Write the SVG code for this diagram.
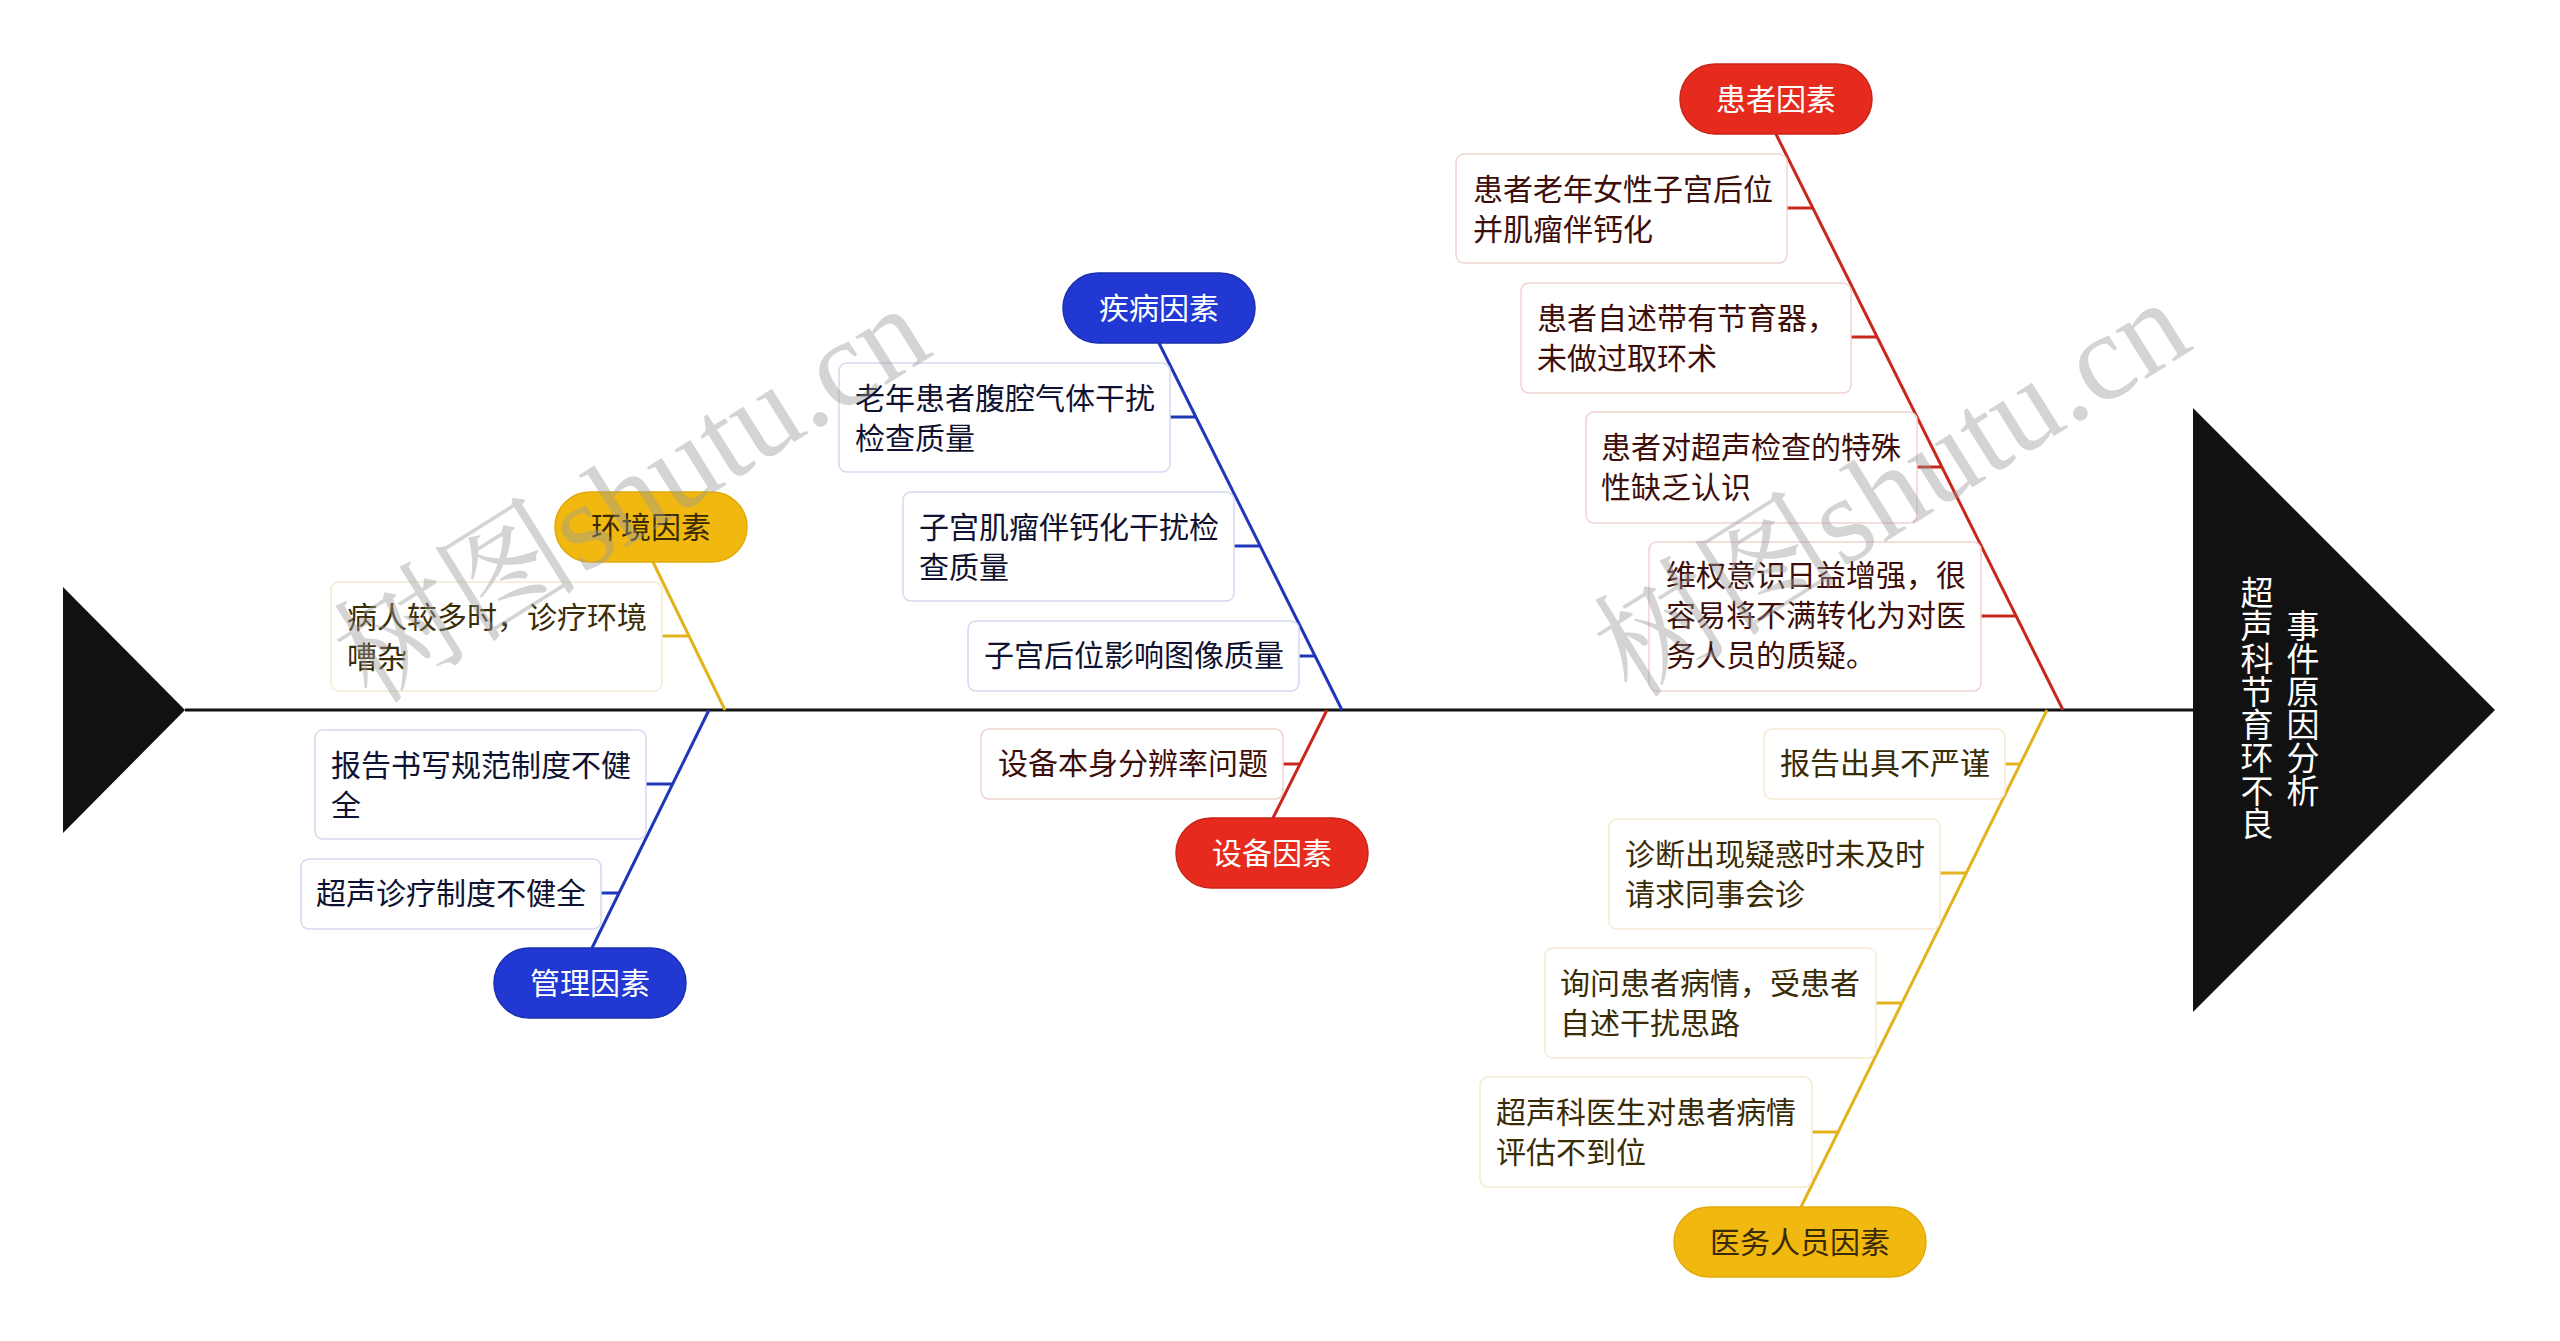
<svg xmlns="http://www.w3.org/2000/svg" width="2560" height="1341" viewBox="0 0 2560 1341">
<style>
text{font-family:"Noto Sans CJK SC","Noto Sans",sans-serif;}
.t{font-size:30px;}
.pill-t{font-size:30px;text-anchor:middle;}
.box{fill:#fff;stroke-width:1.5;}
.rb{stroke:#efd3d1;} .bb{stroke:#d4d9f0;} .yb{stroke:#f3ead0;}
.rt{fill:#3e0e0a;} .bt{fill:#0f1230;} .yt{fill:#3a2c06;}
.red-line{stroke:#c8271c;stroke-width:3;fill:none;}
.blue-line{stroke:#1f36b8;stroke-width:3;fill:none;}
.yel-line{stroke:#e3b31d;stroke-width:3;fill:none;}
.red-pill{fill:#e62b1e;stroke:#c92419;stroke-width:1.5;}
.blue-pill{fill:#2139d2;stroke:#1a2fb0;stroke-width:1.5;}
.yel-pill{fill:#f1b90f;stroke:#e0aa0a;stroke-width:1.5;}
.wt{fill:#fff;} .dk{fill:#3a2a05;}
.title{font-size:33px;fill:#fff;text-anchor:middle;writing-mode:vertical-rl;}
.wm{font-family:"Liberation Serif","Noto Serif CJK SC","Noto Sans CJK SC",serif;font-size:124px;fill:#9a9a9a;opacity:0.42;}
</style>
<rect width="2560" height="1341" fill="#fff"/>

<g id="connectors">
<line x1="185" y1="710" x2="2193" y2="710" stroke="#111" stroke-width="3"/>
<!-- 患者因素 -->
<line class="red-line" x1="1776" y1="134" x2="2063" y2="710"/>
<line class="red-line" x1="1787" y1="208" x2="1813" y2="208"/>
<line class="red-line" x1="1851" y1="337" x2="1877" y2="337"/>
<line class="red-line" x1="1917" y1="467" x2="1941" y2="467"/>
<line class="red-line" x1="1981" y1="616" x2="2016" y2="616"/>
<!-- 疾病因素 -->
<line class="blue-line" x1="1159" y1="343" x2="1342" y2="710"/>
<line class="blue-line" x1="1170" y1="417" x2="1196" y2="417"/>
<line class="blue-line" x1="1234" y1="546" x2="1260" y2="546"/>
<line class="blue-line" x1="1299" y1="656" x2="1315" y2="656"/>
<!-- 设备因素 -->
<line class="red-line" x1="1327" y1="710" x2="1273" y2="818"/>
<line class="red-line" x1="1283" y1="764" x2="1300" y2="764"/>
<!-- 环境因素 -->
<line class="yel-line" x1="653" y1="562" x2="725" y2="710"/>
<line class="yel-line" x1="662" y1="636" x2="689" y2="636"/>
<!-- 管理因素 -->
<line class="blue-line" x1="709" y1="710" x2="592" y2="948"/>
<line class="blue-line" x1="646" y1="784" x2="672" y2="784"/>
<line class="blue-line" x1="601" y1="893" x2="619" y2="893"/>
<!-- 医务人员因素 -->
<line class="yel-line" x1="2047" y1="710" x2="1801" y2="1207"/>
<line class="yel-line" x1="2005" y1="764" x2="2020" y2="764"/>
<line class="yel-line" x1="1940" y1="873" x2="1966" y2="873"/>
<line class="yel-line" x1="1876" y1="1003" x2="1902" y2="1003"/>
<line class="yel-line" x1="1812" y1="1132" x2="1838" y2="1132"/>
</g>

<g id="tail">
<polygon points="63,587 185,710 63,833" fill="#111"/>
</g>

<g id="head">
<polygon points="2193,408 2495,710 2193,1012" fill="#111"/>
<text class="title" x="2257" y="708">超声科节育环不良</text>
<text class="title" x="2303" y="708">事件原因分析</text>
</g>

<g id="patient">
<rect class="red-pill" x="1680" y="64" width="192" height="70" rx="35"/>
<text class="pill-t wt" x="1776" y="110">患者因素</text>
</g>
<g id="patient-1">
<rect class="box rb" x="1456" y="154" width="331" height="109" rx="8"/>
<text class="t rt" x="1473" y="200">患者老年女性子宫后位</text>
<text class="t rt" x="1473" y="240">并肌瘤伴钙化</text>
</g>
<g id="patient-2">
<rect class="box rb" x="1521" y="283" width="330" height="110" rx="8"/>
<text class="t rt" x="1537" y="329">患者自述带有节育器，</text>
<text class="t rt" x="1537" y="369">未做过取环术</text>
</g>
<g id="patient-3">
<rect class="box rb" x="1586" y="412" width="331" height="111" rx="8"/>
<text class="t rt" x="1601" y="458">患者对超声检查的特殊</text>
<text class="t rt" x="1601" y="498">性缺乏认识</text>
</g>
<g id="patient-4">
<rect class="box rb" x="1649" y="542" width="332" height="149" rx="8"/>
<text class="t rt" x="1666" y="586">维权意识日益增强，很</text>
<text class="t rt" x="1666" y="626">容易将不满转化为对医</text>
<text class="t rt" x="1666" y="666">务人员的质疑。</text>
</g>

<g id="disease">
<rect class="blue-pill" x="1063" y="273" width="192" height="70" rx="35"/>
<text class="pill-t wt" x="1159" y="319">疾病因素</text>
</g>
<g id="disease-1">
<rect class="box bb" x="839" y="363" width="331" height="109" rx="8"/>
<text class="t bt" x="855" y="409">老年患者腹腔气体干扰</text>
<text class="t bt" x="855" y="449">检查质量</text>
</g>
<g id="disease-2">
<rect class="box bb" x="903" y="492" width="331" height="109" rx="8"/>
<text class="t bt" x="919" y="538">子宫肌瘤伴钙化干扰检</text>
<text class="t bt" x="919" y="578">查质量</text>
</g>
<g id="disease-3">
<rect class="box bb" x="968" y="621" width="331" height="70" rx="8"/>
<text class="t bt" x="984" y="666">子宫后位影响图像质量</text>
</g>

<g id="equipment">
<rect class="red-pill" x="1176" y="818" width="192" height="70" rx="35"/>
<text class="pill-t wt" x="1272" y="864">设备因素</text>
</g>
<g id="equipment-1">
<rect class="box rb" x="981" y="729" width="302" height="70" rx="8"/>
<text class="t rt" x="998" y="774">设备本身分辨率问题</text>
</g>

<g id="environment">
<rect class="yel-pill" x="555" y="492" width="192" height="70" rx="35"/>
<text class="pill-t dk" x="651" y="538">环境因素</text>
</g>
<g id="environment-1">
<rect class="box yb" x="331" y="582" width="331" height="109" rx="8"/>
<text class="t yt" x="347" y="628">病人较多时，诊疗环境</text>
<text class="t yt" x="347" y="668">嘈杂</text>
</g>

<g id="management">
<rect class="blue-pill" x="494" y="948" width="192" height="70" rx="35"/>
<text class="pill-t wt" x="590" y="994">管理因素</text>
</g>
<g id="management-1">
<rect class="box bb" x="315" y="730" width="331" height="109" rx="8"/>
<text class="t bt" x="331" y="776">报告书写规范制度不健</text>
<text class="t bt" x="331" y="816">全</text>
</g>
<g id="management-2">
<rect class="box bb" x="301" y="859" width="300" height="70" rx="8"/>
<text class="t bt" x="316" y="904">超声诊疗制度不健全</text>
</g>

<g id="staff">
<rect class="yel-pill" x="1674" y="1207" width="252" height="70" rx="35"/>
<text class="pill-t dk" x="1800" y="1253">医务人员因素</text>
</g>
<g id="staff-1">
<rect class="box yb" x="1764" y="729" width="241" height="70" rx="8"/>
<text class="t yt" x="1780" y="774">报告出具不严谨</text>
</g>
<g id="staff-2">
<rect class="box yb" x="1609" y="819" width="331" height="110" rx="8"/>
<text class="t yt" x="1625" y="865">诊断出现疑惑时未及时</text>
<text class="t yt" x="1625" y="905">请求同事会诊</text>
</g>
<g id="staff-3">
<rect class="box yb" x="1545" y="948" width="331" height="110" rx="8"/>
<text class="t yt" x="1560" y="994">询问患者病情，受患者</text>
<text class="t yt" x="1560" y="1034">自述干扰思路</text>
</g>
<g id="staff-4">
<rect class="box yb" x="1480" y="1077" width="332" height="110" rx="8"/>
<text class="t yt" x="1496" y="1123">超声科医生对患者病情</text>
<text class="t yt" x="1496" y="1163">评估不到位</text>
</g>

<g id="watermark">
<text class="wm" transform="translate(372,706) rotate(-32)">树图shutu.cn</text>
<text class="wm" transform="translate(1632,700) rotate(-32)">树图shutu.cn</text>
</g>
</svg>
